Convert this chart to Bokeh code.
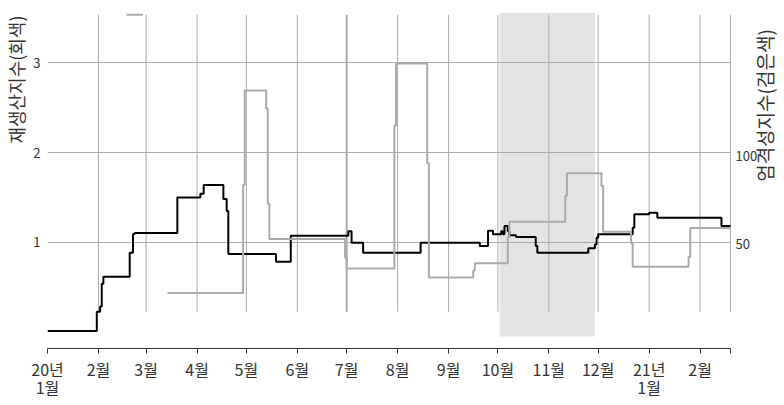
import math
import pandas as pd
import numpy as np
from bokeh.plotting import figure
from bokeh.models import Range1d, LinearAxis, FixedTicker, ColumnDataSource, Title, Label
from bokeh.embed import file_html
from bokeh.resources import INLINE

# ---------------- data ----------------
# Reproduction number (gray, left axis) - step breakpoints
rt_dates = ["2020-02-18", "2020-02-28", "2020-03-14", "2020-04-29", "2020-04-30",
            "2020-05-13", "2020-05-14", "2020-05-15", "2020-06-30", "2020-07-01",
            "2020-07-30", "2020-07-31", "2020-08-19", "2020-08-20", "2020-09-16",
            "2020-09-17", "2020-10-07", "2020-10-08", "2020-11-11", "2020-11-12",
            "2020-12-03", "2020-12-04", "2020-12-21", "2020-12-22", "2021-01-25",
            "2021-01-26"]
rt_values = [3.53, np.nan, 0.44, 1.64, 2.69,
             2.49, 1.43, 1.04, 0.83, 0.71,
             2.30, 2.99, 1.88, 0.61, 0.69,
             0.77, 1.06, 1.23, 1.52, 1.77,
             1.63, 1.12, 0.99, 0.73, 0.84,
             1.16]

# Stringency index (black, right axis) - step breakpoints
si_dates = ["2020-01-01", "2020-01-31", "2020-02-02", "2020-02-03", "2020-02-04",
            "2020-02-20", "2020-02-22", "2020-02-23", "2020-03-20", "2020-04-03",
            "2020-04-05", "2020-04-17", "2020-04-19", "2020-04-20", "2020-05-19",
            "2020-05-28", "2020-07-02", "2020-07-04", "2020-07-11", "2020-08-15",
            "2020-09-20", "2020-09-25", "2020-09-28", "2020-10-03", "2020-10-04",
            "2020-10-05", "2020-10-07", "2020-10-08", "2020-10-12", "2020-10-24",
            "2020-10-25", "2020-11-25", "2020-11-29", "2020-11-30", "2020-12-01",
            "2020-12-22", "2020-12-23", "2021-01-01", "2021-01-06", "2021-02-14"]
si_values = [0, 11, 14, 27, 31,
             44.7, 55.4, 56, 76.3, 78.5,
             83.4, 75.4, 68.6, 44, 39.6,
             54.5, 57, 50.5, 44.7, 50.5,
             48.6, 57.3, 55.3, 57, 55.3,
             60, 57, 54.7, 53.7, 48.6,
             44.7, 47.3, 49.5, 53.3, 55.3,
             59, 66.7, 67.6, 64.7, 60]

start_date = "2020-01-01"
end_date = "2021-02-19 12:00"

month_ticks = ["2020-01-01", "2020-02-01", "2020-03-01", "2020-04-01", "2020-05-01",
               "2020-06-01", "2020-07-01", "2020-08-01", "2020-09-01", "2020-10-01",
               "2020-11-01", "2020-12-01", "2021-01-01", "2021-02-01"]
month_labels = ["20년", "2월", "3월", "4월", "5월", "6월", "7월", "8월", "9월",
                "10월", "11월", "12월", "21년", "2월"]
year_start_ticks = ["2020-01-01", "2021-01-01"]
year_start_label = "1월"

shade_start = "2020-10-02"
shade_end = "2020-11-29"

left_ticks = [1, 2, 3]
right_ticks = [50, 100]

left_title = "재생산지수(회색)"
right_title = "엄격성지수(검은색)"

# ---------------- helpers ----------------
def to_ms(s):
    return pd.Timestamp(s).value / 1e6

def step_xy(dates, values, end):
    ds = [to_ms(d) for d in dates] + [to_ms(end)]
    xs, ys = [], []
    for i, v in enumerate(values):
        xs += [ds[i], ds[i + 1]]
        ys += [v, v]
    return xs, ys

FONT = "Noto Sans CJK KR"
GRID = "#aaaaaa"
TXT = "#333333"

LEFT_MIN, LEFT_MAX = -0.178, 3.556
RIGHT_MIN, RIGHT_MAX = -10, 182

W, H = 784, 405
PLOT_LEFT, PLOT_RIGHT = 47, 730      # pixel extent of the data area
x0_ms, x1_ms = to_ms(start_date), to_ms(end_date)
# the frame runs to the page edge so that right-side texts are not clipped
x_frame_end = x0_ms + (W - PLOT_LEFT) / (PLOT_RIGHT - PLOT_LEFT) * (x1_ms - x0_ms)

p = figure(width=W, height=H, output_backend="svg", toolbar_location=None,
           x_axis_type="datetime",
           x_range=Range1d(x0_ms, x_frame_end),
           y_range=Range1d(LEFT_MIN, LEFT_MAX),
           min_border_left=PLOT_LEFT, min_border_right=0, min_border_top=12,
           min_border_bottom=57)
p.outline_line_color = None
p.background_fill_color = "white"
p.border_fill_color = "white"
p.extra_y_ranges = {"si": Range1d(RIGHT_MIN, RIGHT_MAX)}

# shaded period
p.quad(left=[to_ms(shade_start)], right=[to_ms(shade_end)], bottom=[-0.045], top=[LEFT_MAX],
       fill_color="#e4e4e4", line_color=None, level="image")

# grids (drawn as segments so they stop at the end of the data area)
p.xgrid.grid_line_color = None
p.ygrid.grid_line_color = None
hsrc = ColumnDataSource(dict(y=left_ticks))
p.segment(x0=x0_ms, x1=x1_ms, y0="y", y1="y", line_color=GRID, line_width=1, source=hsrc)

vgrid_x = [to_ms(d) for d in month_ticks[1:]] + [x1_ms]
vgrid_w = [2 if d == "2020-07-01" else 1 for d in month_ticks[1:]] + [1]
vsrc = ColumnDataSource(dict(x=vgrid_x, w=vgrid_w))
p.segment(x0="x", x1="x", y0=0.23, y1=3.53, line_color=GRID, line_width="w", source=vsrc)

# lines
sx, sy = step_xy(si_dates, si_values, end_date)
p.line(sx, sy, line_color="black", line_width=2, y_range_name="si")
rx, ry = step_xy(rt_dates, rt_values, end_date)
p.line(rx, ry, line_color="#aaaaaa", line_width=2)

# x axis
xa = p.xaxis[0]
xticks = [to_ms(d) for d in month_ticks] + [x1_ms]
xa.ticker = FixedTicker(ticks=xticks)
xa.bounds = (x0_ms, x1_ms)
overrides = {to_ms(d): lab for d, lab in zip(month_ticks, month_labels)}
overrides[x1_ms] = ""
xa.major_label_overrides = overrides
xa.axis_line_color = TXT
xa.major_tick_line_color = TXT
xa.major_tick_out = 5
xa.major_tick_in = 0
xa.minor_tick_line_color = None
xa.major_label_text_font = FONT
xa.major_label_text_font_size = "16px"
xa.major_label_text_color = TXT
xa.major_label_standoff = 3

# second label line under the year-start ticks
xa2 = LinearAxis(ticker=FixedTicker(ticks=[to_ms(d) for d in year_start_ticks]))
xa2.major_label_overrides = {to_ms(d): year_start_label for d in year_start_ticks}
xa2.axis_line_color = None
xa2.major_tick_line_color = None
xa2.minor_tick_line_color = None
xa2.major_tick_out = 0
xa2.major_tick_in = 0
xa2.major_label_text_font = FONT
xa2.major_label_text_font_size = "16px"
xa2.major_label_text_color = TXT
xa2.major_label_standoff = -9
p.add_layout(xa2, "below")

# left axis
ya = p.yaxis[0]
ya.ticker = FixedTicker(ticks=left_ticks)
ya.axis_line_color = None
ya.major_tick_line_color = None
ya.minor_tick_line_color = None
ya.major_label_text_font = FONT
ya.major_label_text_font_size = "13px"
ya.major_label_text_color = TXT
ya.major_label_standoff = 1

# left title, top-aligned
lt = Title(text=left_title, align="right", offset=3, standoff=1, vertical_align="middle",
           text_font=FONT, text_font_size="18px", text_font_style="normal",
           text_color=TXT)
p.add_layout(lt, "left")

# right-hand scale labels and title (inside the extended frame)
for v in right_ticks:
    p.add_layout(Label(x=x1_ms, y=v, y_range_name="si", x_offset=5, text=str(v),
                       text_font=FONT, text_font_size="13px", text_color=TXT,
                       text_align="left", text_baseline="middle"))
p.add_layout(Label(x=x1_ms, y=243, x_units="data", y_units="screen", x_offset=34,
                   text=right_title, angle=math.pi / 2,
                   text_font=FONT, text_font_size="19px", text_color=TXT,
                   text_align="center", text_baseline="middle"))

open("out.html", "w").write(file_html(p, INLINE))
